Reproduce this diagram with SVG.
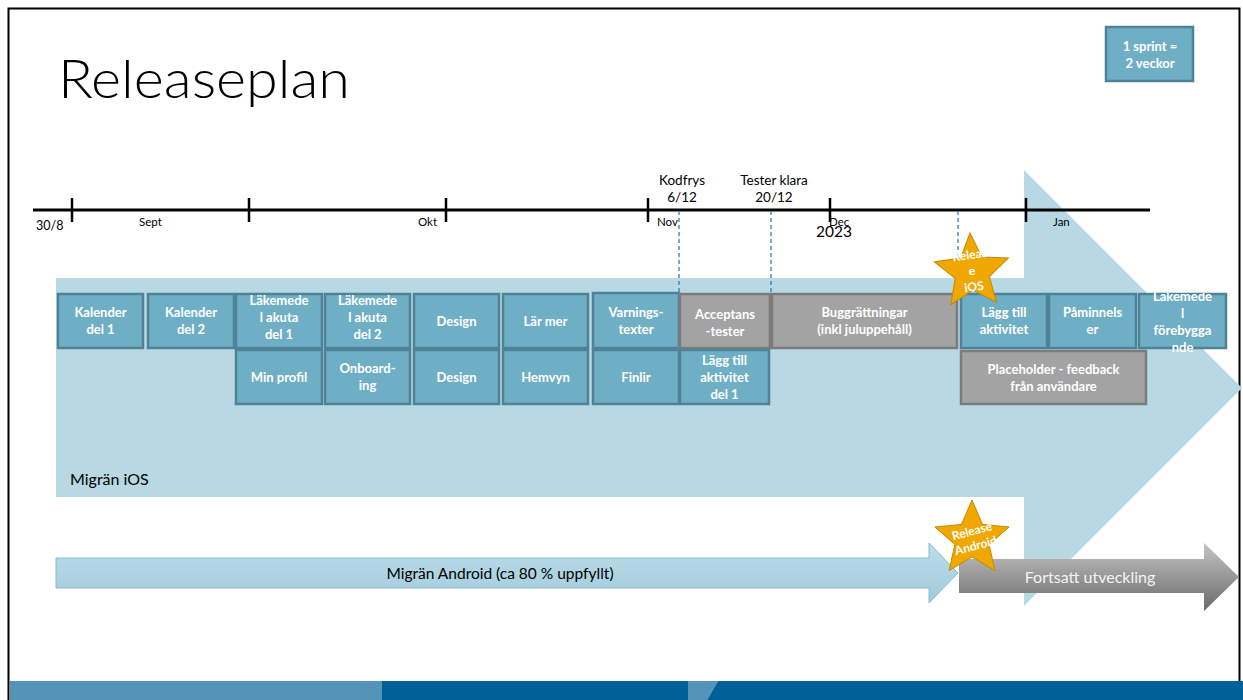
<svg xmlns="http://www.w3.org/2000/svg" width="1243" height="700" viewBox="0 0 1243 700">
<defs>
<style>
.t{font-family:Lato,"Liberation Sans",sans-serif;}
.bt{font-family:Lato,"Liberation Sans",sans-serif;font-weight:bold;font-size:13px;fill:#fff;text-anchor:middle;}
.st{font-family:Lato,"Liberation Sans",sans-serif;font-weight:bold;font-size:12px;fill:#fff;text-anchor:middle;}
.sm{font-family:Lato,"Liberation Sans",sans-serif;font-size:11.5px;fill:#000;}
.lb{font-family:Lato,"Liberation Sans",sans-serif;font-size:13.5px;fill:#000;text-anchor:middle;}
.b{fill:#6FAFC6;stroke:#4E8397;stroke-width:2.5;}
.g{fill:#A3A3A3;stroke:#7B7B7B;stroke-width:2.5;}
.tick{stroke:#000;stroke-width:2.5;}
.dash{stroke:#2E7DB5;stroke-width:1.3;stroke-dasharray:4 3;fill:none;}
.star{fill:#F0A800;stroke:#C28A00;stroke-width:1;}
</style>
<linearGradient id="gA" x1="0" y1="543" x2="0" y2="603" gradientUnits="userSpaceOnUse">
<stop offset="0" stop-color="#BCDDE9"/><stop offset="1" stop-color="#A3CADB"/>
</linearGradient>
<linearGradient id="gG" x1="0" y1="543" x2="0" y2="611" gradientUnits="userSpaceOnUse">
<stop offset="0" stop-color="#C4C4C4"/><stop offset="1" stop-color="#6A6A6A"/>
</linearGradient>
<polygon id="star5" points="0,-39 10.58,-14.56 37.09,-12.05 17.12,5.56 22.92,31.55 0,18 -22.92,31.55 -17.12,5.56 -37.09,-12.05 -10.58,-14.56"/>
<clipPath id="clipL"><rect x="1130" y="293" width="113" height="80"/></clipPath>
</defs>
<rect x="0" y="0" width="1243" height="700" fill="#fff"/>
<rect x="8.5" y="8.5" width="1231" height="700" fill="none" stroke="#000" stroke-width="2"/>

<g id="band">
<rect x="10" y="681" width="372" height="19" fill="#5494B8"/>
<rect x="382" y="681" width="306" height="19" fill="#006098"/>
<polygon points="688,681 718,681 707,700 688,700" fill="#5494B8"/>
<polygon points="718,681 1243,681 1243,700 707,700" fill="#006098"/>
</g>

<text id="title" class="t" x="58" y="98" font-size="54" font-weight="300" textLength="292" lengthAdjust="spacingAndGlyphs" fill="#000">Releaseplan</text>

<g id="ios-arrow">
<path d="M56,278 H1024 V170 L1242,388 L1024,606 V497 H56 Z" fill="#B8D9E3"/>
<text class="t" x="70" y="485" font-size="16" fill="#000">Migrän iOS</text>
</g>

<g id="sprint">
<rect class="b" x="1106" y="27" width="87" height="54"/>
<text class="bt" x="1150" y="51">1 sprint =</text>
<text class="bt" x="1150" y="68">2 veckor</text>
</g>

<g id="timeline">
<line x1="33" y1="210" x2="1150" y2="210" stroke="#000" stroke-width="3"/>
<line class="tick" x1="72" y1="198" x2="72" y2="222"/>
<line class="tick" x1="249" y1="198" x2="249" y2="222"/>
<line class="tick" x1="446" y1="198" x2="446" y2="222"/>
<line class="tick" x1="648" y1="198" x2="648" y2="222"/>
<line class="tick" x1="830" y1="198" x2="830" y2="222"/>
<line class="tick" x1="1026" y1="198" x2="1026" y2="222"/>
<text class="sm" x="36" y="230" style="font-size:12.5px">30/8</text>
<text class="sm" x="139" y="226">Sept</text>
<text class="sm" x="418" y="226">Okt</text>
<text class="sm" x="657" y="226">Nov</text>
<text class="sm" x="829" y="226">Dec</text>
<text class="sm" x="816" y="237" style="font-size:15.5px">2023</text>
<text class="sm" x="1053" y="226">Jan</text>
<text class="lb" x="682" y="185">Kodfrys</text>
<text class="lb" x="682" y="202">6/12</text>
<text class="lb" x="774" y="185">Tester klara</text>
<text class="lb" x="774" y="202">20/12</text>
</g>

<g id="connectors">
<line class="dash" x1="679" y1="211" x2="679" y2="293"/>
<line class="dash" x1="771" y1="211" x2="771" y2="293"/>
<line class="dash" x1="958" y1="211" x2="958" y2="293"/>
</g>

<g id="n1"><rect class="b" x="58" y="294" width="85" height="54"/><text class="bt" x="100.5" y="317">Kalender</text><text class="bt" x="100.5" y="334">del 1</text></g>
<g id="n2"><rect class="b" x="148" y="294" width="86" height="54"/><text class="bt" x="191" y="317">Kalender</text><text class="bt" x="191" y="334">del 2</text></g>
<g id="n3"><rect class="b" x="236" y="294" width="86" height="54"/><text class="bt" x="279" y="305">Läkemede</text><text class="bt" x="279" y="322">l akuta</text><text class="bt" x="279" y="339">del 1</text></g>
<g id="n4"><rect class="b" x="325" y="294" width="85" height="54"/><text class="bt" x="367.5" y="305">Läkemede</text><text class="bt" x="367.5" y="322">l akuta</text><text class="bt" x="367.5" y="339">del 2</text></g>
<g id="n5"><rect class="b" x="414" y="294" width="85" height="54"/><text class="bt" x="456.5" y="326">Design</text></g>
<g id="n6"><rect class="b" x="503" y="294" width="85" height="54"/><text class="bt" x="545.5" y="326">Lär mer</text></g>
<g id="n7"><rect class="b" x="593" y="293" width="86" height="55"/><text class="bt" x="636" y="317">Varnings-</text><text class="bt" x="636" y="334">texter</text></g>
<g id="n8"><rect class="g" x="680" y="294" width="90" height="54"/><text class="bt" x="725" y="319">Acceptans</text><text class="bt" x="725" y="336">-tester</text></g>
<g id="n9"><rect class="g" x="772" y="294" width="185" height="54"/><text class="bt" x="864.5" y="317">Buggrättningar</text><text class="bt" x="864.5" y="334">(inkl juluppehåll)</text></g>
<g id="n10"><rect class="b" x="961" y="294" width="86" height="54"/><text class="bt" x="1004" y="317">Lägg till</text><text class="bt" x="1004" y="334">aktivitet</text></g>
<g id="n11"><rect class="b" x="1049" y="294" width="87" height="54"/><text class="bt" x="1092.5" y="317">Påminnels</text><text class="bt" x="1092.5" y="334">er</text></g>
<g id="n12"><rect class="b" x="1139" y="294" width="87" height="54"/><g clip-path="url(#clipL)"><text class="bt" x="1182.5" y="301">Läkemede</text><text class="bt" x="1182.5" y="318">l</text><text class="bt" x="1182.5" y="335">förebygga</text><text class="bt" x="1182.5" y="352">nde</text></g></g>

<g id="n13"><rect class="b" x="236" y="350" width="86" height="54"/><text class="bt" x="279" y="382">Min profil</text></g>
<g id="n14"><rect class="b" x="325" y="350" width="85" height="54"/><text class="bt" x="367.5" y="373">Onboard-</text><text class="bt" x="367.5" y="390">ing</text></g>
<g id="n15"><rect class="b" x="414" y="350" width="85" height="54"/><text class="bt" x="456.5" y="382">Design</text></g>
<g id="n16"><rect class="b" x="503" y="350" width="85" height="54"/><text class="bt" x="545.5" y="382">Hemvyn</text></g>
<g id="n17"><rect class="b" x="593" y="350" width="86" height="54"/><text class="bt" x="636" y="382">Finlir</text></g>
<g id="n18"><rect class="b" x="680" y="350" width="89" height="54"/><text class="bt" x="724.5" y="365">Lägg till</text><text class="bt" x="724.5" y="382">aktivitet</text><text class="bt" x="724.5" y="399">del 1</text></g>
<g id="n19"><rect class="g" x="961" y="351" width="185" height="53"/><text class="bt" x="1053.5" y="374">Placeholder - feedback</text><text class="bt" x="1053.5" y="391">från användare</text></g>

<g id="android-arrow">
<path d="M56,558 H929 V543 L958,573 L929,603 V588 H56 Z" fill="url(#gA)" stroke="#86BCD2" stroke-width="1"/>
<text class="t" x="500" y="579" font-size="15.5" fill="#000" text-anchor="middle">Migrän Android (ca 80 % uppfyllt)</text>
</g>

<g id="next-arrow">
<path d="M959,559 H1204 V543 L1239,577 L1204,611 V593 H959 Z" fill="url(#gG)"/>
<text class="t" x="1090" y="583" font-size="16" fill="#F4F4F4" text-anchor="middle">Fortsatt utveckling</text>
</g>

<g id="star-ios">
<use href="#star5" class="star" transform="translate(972,272) rotate(-3)"/>
<g transform="rotate(-8 972 272)">
<text class="st" x="972" y="259">Releas</text>
<text class="st" x="972" y="275">e</text>
<text class="st" x="972" y="291">iOS</text>
</g>
</g>

<g id="star-android">
<use href="#star5" class="star" transform="translate(972,539)"/>
<g transform="rotate(-15 974 539)">
<text class="st" x="974" y="535">Release</text>
<text class="st" x="974" y="550">Android</text>
</g>
</g>
</svg>
